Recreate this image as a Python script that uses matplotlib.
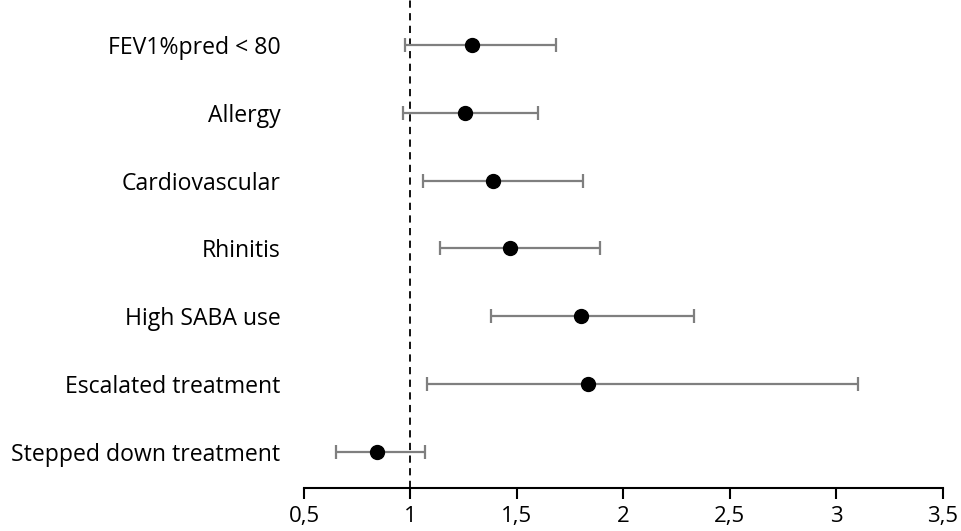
import numpy as np
import matplotlib.pyplot as plt

labels = ["FEV1%pred < 80", "Allergy", "Cardiovascular", "Rhinitis",
          "High SABA use", "Escalated treatment", "Stepped down treatment"]
odds = [1.29, 1.255, 1.39, 1.466, 1.80, 1.834, 0.844]
lower = [0.973, 0.965, 1.06, 1.14, 1.377, 1.077, 0.65]
upper = [1.685, 1.60, 1.81, 1.888, 2.33, 3.10, 1.07]
xticks = [0.5, 1, 1.5, 2, 2.5, 3, 3.5]
xticklabels = ["0,5", "1", "1,5", "2", "2,5", "3", "3,5"]

plt.rcParams['font.family'] = ['Open Sans', 'DejaVu Sans']

fig = plt.figure(figsize=(9.62, 5.31), dpi=100)
ax = fig.add_axes([0.316, 0.081, 0.664, 0.919])

y = np.arange(len(labels))
odds = np.array(odds)
err = [odds - np.array(lower), np.array(upper) - odds]

ax.axvline(1, color="black", linestyle=(0, (4, 3)), linewidth=1.3, zorder=1)
ax.errorbar(odds, y, xerr=err, fmt="none", ecolor="#7f7f7f", elinewidth=1.6,
            capsize=5, capthick=1.6, zorder=2)
ax.plot(odds, y, "o", color="black", markersize=10, zorder=3)

ax.set_xlim(0.5, 3.5)
ax.set_ylim(6.53, -0.66)
ax.set_xticks(xticks)
ax.set_xticklabels(xticklabels, fontsize=16)
ax.set_yticks(y)
ax.set_yticklabels(labels, fontsize=16.6)

for s in ["top", "right", "left"]:
    ax.spines[s].set_visible(False)
ax.spines["bottom"].set_linewidth(1.5)
ax.tick_params(axis="x", direction="out", length=8, width=1.5, pad=5)
ax.tick_params(axis="y", length=0, pad=17)

fig.savefig("out.png", dpi=100)
